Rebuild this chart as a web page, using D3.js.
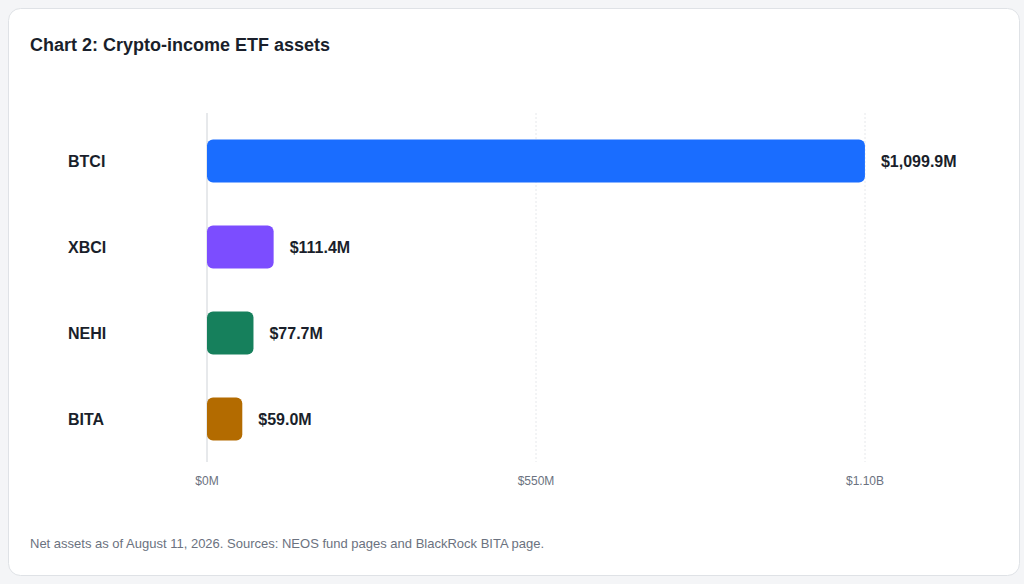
<!DOCTYPE html>
<html><head><meta charset="utf-8">
<script src="https://cdn.jsdelivr.net/npm/d3@7"></script>
<style>
body{margin:0;background:#f4f5f7;font-family:Arial,"Liberation Sans",sans-serif;}
</style></head><body>
<script>
const tickers = ["BTCI", "XBCI", "NEHI", "BITA"];
const assets = [1099.9, 111.4, 77.7, 59.0];
const labels = ["$1,099.9M", "$111.4M", "$77.7M", "$59.0M"];
const colors = ["#1a6dff", "#7c4dff", "#16805c", "#b36b00"];
const ticks = [0, 550, 1100];
const tickLabels = ["$0M", "$550M", "$1.10B"];

const w = 1024, h = 584;
const svg = d3.select("body").append("svg").attr("width", w).attr("height", h);

svg.append("rect").attrs ? null : null;
svg.append("rect").attr("x", 0).attr("y", 0).attr("width", w).attr("height", h).attr("fill", "#f4f5f7");
svg.append("rect").attr("x", 8.5).attr("y", 8.5).attr("width", 1011).attr("height", 567)
  .attr("rx", 12).attr("fill", "#fff").attr("stroke", "#dfe2e6");

svg.append("text").attr("x", 30).attr("y", 51).text("Chart 2: Crypto-income ETF assets")
  .attr("font-size", 18).attr("font-weight", "bold").attr("fill", "#1a1f2b");

const x = d3.scaleLinear().domain([0, 1100]).range([207, 865]);
const y = d3.scaleBand().domain(tickers).range([118, 462]).paddingInner(0.5).paddingOuter(0.25);

// grid
svg.selectAll("line.grid").data(ticks).enter().append("line")
  .attr("x1", d => x(d)).attr("x2", d => x(d)).attr("y1", 113).attr("y2", 462)
  .attr("stroke", d => d === 0 ? "#cfd3d8" : "#e6e8eb").attr("stroke-dasharray", d => d === 0 ? null : "2,2");

svg.selectAll("text.tick").data(ticks).enter().append("text")
  .attr("x", d => x(d)).attr("y", 485).attr("text-anchor", "middle")
  .attr("font-size", 12).attr("fill", "#6b7280").text((d, i) => tickLabels[i]);

svg.selectAll("rect.bar").data(assets).enter().append("rect")
  .attr("x", x(0)).attr("y", (d, i) => y(tickers[i]))
  .attr("width", d => x(d) - x(0)).attr("height", y.bandwidth())
  .attr("rx", 6).attr("fill", (d, i) => colors[i]);

svg.selectAll("text.cat").data(tickers).enter().append("text")
  .attr("x", 68).attr("y", d => y(d) + y.bandwidth() / 2).attr("dy", "0.35em")
  .attr("font-size", 16).attr("font-weight", "bold").attr("fill", "#1a1f2b").text(d => d);

svg.selectAll("text.val").data(assets).enter().append("text")
  .attr("x", d => x(d) + 16).attr("y", (d, i) => y(tickers[i]) + y.bandwidth() / 2).attr("dy", "0.35em")
  .attr("font-size", 16).attr("font-weight", "bold").attr("fill", "#1a1f2b").text((d, i) => labels[i]);

svg.append("text").attr("x", 30).attr("y", 548)
  .text("Net assets as of August 11, 2026. Sources: NEOS fund pages and BlackRock BITA page.")
  .attr("font-size", 13).attr("fill", "#6b7280");
</script>
</body></html>
